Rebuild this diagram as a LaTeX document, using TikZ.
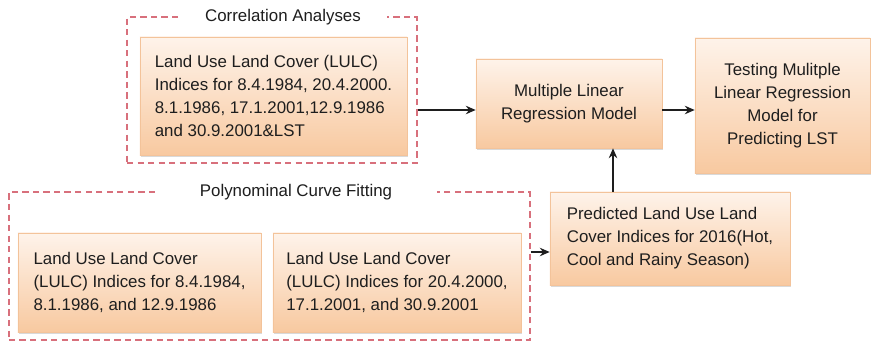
\documentclass[tikz,border=0pt]{standalone}
\usepackage{fontspec}
\setmainfont{Liberation Sans}
\usepackage{xcolor}
\usetikzlibrary{positioning,calc,shadows,arrows.meta}
\definecolor{boxtop}{HTML}{FEF3EA}
\definecolor{boxbot}{HTML}{F8C9A0}
\definecolor{boxline}{HTML}{F3C39A}
\definecolor{framered}{HTML}{D8707C}
\definecolor{txt}{HTML}{1E1E1E}

\begin{document}
\begin{tikzpicture}[x=0.025cm, y=-0.025cm,
    font=\fontsize{12}{16.4}\selectfont, text=txt,
    box/.style={draw=boxline, line width=0.4pt, top color=boxtop, bottom color=boxbot,
        drop shadow={opacity=0.3, shadow xshift=0.6pt, shadow yshift=-1.2pt},
        inner xsep=0.3cm, inner ysep=0pt, align=left},
    frame/.style={draw=framered, line width=1.1pt, dash pattern=on 4.5pt off 3pt},
    title/.style={fill=white, inner sep=0pt, minimum height=0.4cm},
    arr/.style={-{Stealth[length=7pt, width=6pt]}, line width=1.1pt, draw=txt}]
    \useasboundingbox (0, 0) rectangle (880, 342);

    \node [frame, minimum width=7.25cm, minimum height=3.65cm] (corr) at (272, 90) {};
    \node [title, minimum width=5.175cm] (corrtitle) at (283, 17) {Correlation Analyses};
    \node [box, minimum width=6.675cm, minimum height=2.95cm] (lulc) at (273.5, 96)
        {Land Use Land Cover (LULC)\\Indices for 8.4.1984, 20.4.2000.\\8.1.1986, 17.1.2001,12.9.1986\\and 30.9.2001\&LST};

    \node [frame, minimum width=13.025cm, minimum height=3.7cm] (poly) at (269.5, 266) {};
    \node [title, minimum width=7.05cm] (polytitle) at (296, 192) {Polynominal Curve Fitting};
    \node [box, minimum width=6.075cm, minimum height=2.475cm] (early) at (139.5, 282.5)
        {Land Use Land Cover\\(LULC) Indices for 8.4.1984,\\8.1.1986, and 12.9.1986};
    \node [box, minimum width=6.2cm, minimum height=2.475cm] (late) at (397, 282.5)
        {Land Use Land Cover\\(LULC) Indices for 20.4.2000,\\17.1.2001, and 30.9.2001};

    \node [box, minimum width=4.65cm, minimum height=2.225cm, align=center] (mlr) at (569, 103.5)
        {Multiple Linear\\Regression Model};
    \node [box, minimum width=4.375cm, minimum height=3.375cm, align=center] (test) at (782.5, 105.5)
        {Testing Mulitple\\Linear Regression\\Model for\\Predicting LST};
    \node [box, minimum width=6cm, minimum height=2.325cm] (pred) at (670, 238.5)
        {Predicted Land Use Land\\Cover Indices for 2016(Hot,\\Cool and Rainy Season)};

    \coordinate (row) at (0, 110);
    \coordinate (up) at (613, 0);
    \coordinate (low) at (0, 252);
    \draw [arr] (corr.east |- row) -- (mlr.west |- row);
    \draw [arr] (mlr.east |- row) -- (test.west |- row);
    \draw [arr] (pred.north -| up) -- (mlr.south -| up);
    \draw [arr] (poly.east |- low) -- (pred.west |- low);
\end{tikzpicture}
\end{document}
